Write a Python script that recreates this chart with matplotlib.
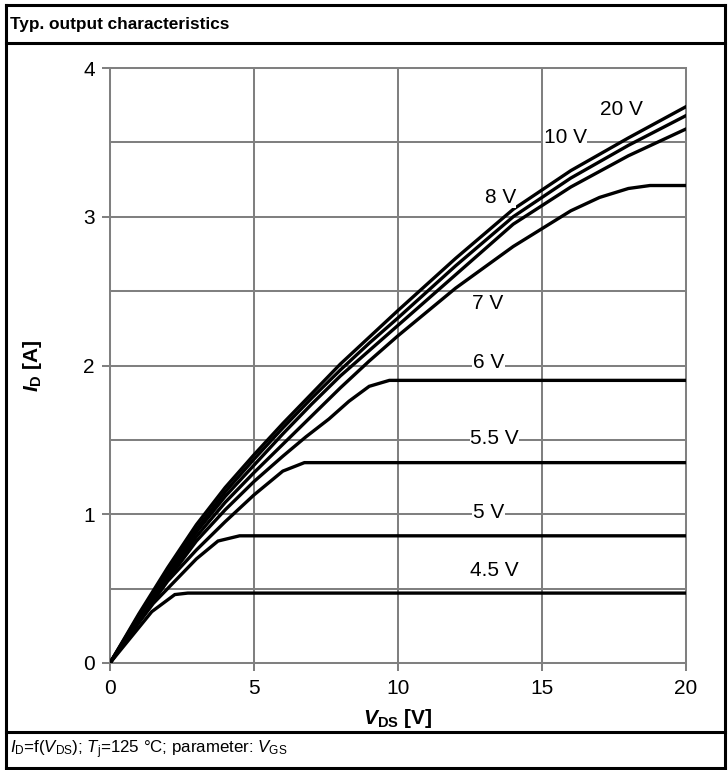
import matplotlib
matplotlib.use('Agg')
import matplotlib.pyplot as plt
from matplotlib.lines import Line2D
from matplotlib.ticker import MultipleLocator

plt.rcParams['font.family'] = ['Liberation Sans', 'DejaVu Sans']
plt.rcParams['mathtext.fontset'] = 'custom'
plt.rcParams['mathtext.rm'] = 'Liberation Sans'
plt.rcParams['mathtext.it'] = 'Liberation Sans:italic'
plt.rcParams['mathtext.bf'] = 'Liberation Sans:bold'
plt.rcParams['mathtext.bfit'] = 'Liberation Sans:bold:italic'

# ---- data ----
vgs_labels = ['20 V', '10 V', '8 V', '7 V', '6 V', '5.5 V', '5 V', '4.5 V']

vds_20 = [0, 1, 2, 3, 4, 5, 6, 7, 8, 9, 10, 12, 14, 16, 18, 20]
id_20 = [0, 0.33, 0.64, 0.93, 1.18, 1.40, 1.61, 1.81, 2.01, 2.19, 2.37, 2.72, 3.05, 3.31, 3.53, 3.74]

vds_10 = [0, 1, 2, 3, 4, 5, 6, 7, 8, 9, 10, 12, 14, 16, 18, 20]
id_10 = [0, 0.32, 0.62, 0.90, 1.15, 1.37, 1.58, 1.78, 1.97, 2.15, 2.32, 2.67, 3.00, 3.26, 3.48, 3.68]

vds_8 = [0, 1, 2, 3, 4, 5, 6, 7, 8, 9, 10, 12, 14, 16, 18, 20]
id_8 = [0, 0.31, 0.60, 0.88, 1.12, 1.33, 1.54, 1.74, 1.93, 2.10, 2.27, 2.61, 2.95, 3.20, 3.41, 3.59]

vds_7 = [0, 1, 2, 3, 4, 5, 6, 7, 8, 9, 10, 12, 14, 16, 17, 18, 18.75, 20]
id_7 = [0, 0.30, 0.58, 0.85, 1.08, 1.28, 1.47, 1.66, 1.85, 2.03, 2.20, 2.52, 2.80, 3.04, 3.13, 3.19, 3.21, 3.21]

vds_6 = [0, 1, 2, 3, 4, 5, 6, 6.8, 7.6, 8.3, 9.0, 9.7, 20]
id_6 = [0, 0.29, 0.56, 0.82, 1.03, 1.22, 1.39, 1.52, 1.64, 1.76, 1.86, 1.90, 1.90]

vds_55 = [0, 1, 2, 3, 4, 5, 6, 6.75, 20]
id_55 = [0, 0.28, 0.55, 0.76, 0.95, 1.13, 1.29, 1.347, 1.347]

vds_5 = [0, 1, 1.5, 2.2, 3.0, 3.75, 4.5, 20]
id_5 = [0, 0.27, 0.40, 0.54, 0.70, 0.82, 0.855, 0.855]

vds_45 = [0, 1.45, 2.25, 2.7, 20]
id_45 = [0, 0.345, 0.46, 0.47, 0.47]

curves = [(vds_20, id_20), (vds_10, id_10), (vds_8, id_8), (vds_7, id_7),
          (vds_6, id_6), (vds_55, id_55), (vds_5, id_5), (vds_45, id_45)]

# label anchor positions (data coordinates)
label_x = [17.75, 15.8, 13.55, 13.1, 13.15, 13.35, 13.15, 13.35]
label_y = [3.72, 3.53, 3.13, 2.42, 2.02, 1.51, 1.01, 0.62]

x_ticks = [0, 5, 10, 15, 20]
y_ticks = [0, 1, 2, 3, 4]

# ---- figure ----
W, H = 728, 770
fig = plt.figure(figsize=(W / 100, H / 100), dpi=100)

ax = fig.add_axes([110 / W, 1 - 663 / H, (686 - 110) / W, (663 - 68) / H])
ax.set_xlim(0, 20)
ax.set_ylim(0, 4)
ax.set_xticks(x_ticks)
ax.set_yticks(y_ticks)
ax.yaxis.set_minor_locator(MultipleLocator(0.5))
grid_c = '#808080'
ax.grid(True, which='major', color=grid_c, lw=1.45)
ax.grid(True, which='minor', axis='y', color=grid_c, lw=1.45)
ax.tick_params(which='major', direction='out', length=5.8, width=1.45, color=grid_c,
               labelsize=15, labelcolor='black')
ax.tick_params(axis='x', pad=6)
ax.tick_params(axis='y', pad=5)
ax.tick_params(which='minor', length=0)
for s in ax.spines.values():
    s.set_color(grid_c)
    s.set_linewidth(1.45)
ax.set_axisbelow(True)

for (vx, vy) in curves:
    ax.plot(vx, vy, color='black', lw=2.4, solid_joinstyle='miter', zorder=3)

for lab, lx, ly in zip(vgs_labels, label_x, label_y):
    ax.text(lx, ly, lab, ha='center', va='center', fontsize=15, zorder=4,
            bbox=dict(facecolor='white', edgecolor='none', pad=0.5))

ax.set_xlabel(r'$\mathbfit{V}_{\mathbf{DS}}$ [V]', fontsize=15, fontweight='bold', labelpad=6)
ax.set_ylabel(r'$\mathbfit{I}_{\mathbf{D}}$ [A]', fontsize=15, fontweight='bold', labelpad=28)

# ---- frame / table lines ----
def hline(y, x0=6, x1=725):
    fig.add_artist(Line2D([x0 / W, x1 / W], [1 - y / H, 1 - y / H], color='black', lw=2.2,
                          solid_capstyle='projecting', transform=fig.transFigure))

def vline(x, y0=5, y1=768):
    fig.add_artist(Line2D([x / W, x / W], [1 - y0 / H, 1 - y1 / H], color='black', lw=2.2,
                          solid_capstyle='projecting', transform=fig.transFigure))

hline(5)
hline(43)
hline(732)
hline(768)
vline(6)
vline(725)

fig.text(10 / W, 1 - 25 / H, 'Typ. output characteristics', fontsize=12.4, fontweight='bold',
         ha='left', va='center')
fig.text(10 / W, 1 - 750 / H,
         r'$\mathit{I}_{\mathrm{D}}$=f($\mathit{V}_{\mathrm{DS}}$); $\mathit{T}_{\mathrm{j}}$=125 °C; parameter: $\mathit{V}_{\mathrm{GS}}$',
         fontsize=12.2, ha='left', va='center')

fig.savefig('out.png', dpi=100)
